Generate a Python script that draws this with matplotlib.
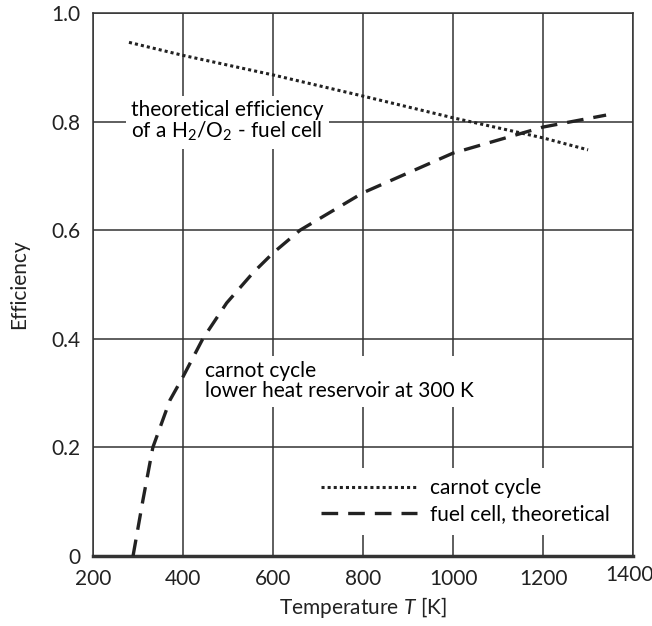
import matplotlib
matplotlib.use("Agg")
import matplotlib.pyplot as plt
import matplotlib.transforms as mtransforms

# Données
t_pointille = [280, 400, 600, 800, 1000, 1200, 1300]
eff_pointille = [0.946, 0.922, 0.886, 0.847, 0.807, 0.770, 0.748]

t_tirets = [289, 311, 333, 371, 400, 444, 497, 556, 600, 660, 800, 1000, 1200, 1340]
eff_tirets = [0.0, 0.103, 0.20, 0.287, 0.33, 0.40, 0.466, 0.522, 0.558, 0.60, 0.669, 0.742, 0.790, 0.812]

x_ticks = [200, 400, 600, 800, 1000, 1200, 1400]
y_ticks = [0, 0.2, 0.4, 0.6, 0.8, 1.0]
y_tick_labels = ['0', '0.2', '0.4', '0.6', '0.8', '1.0']

plt.rcParams['font.family'] = ['Lato', 'DejaVu Sans']
plt.rcParams['mathtext.fontset'] = 'custom'
plt.rcParams['mathtext.rm'] = 'Lato'
plt.rcParams['mathtext.it'] = 'Lato:italic'

fig = plt.figure(figsize=(6.52, 6.26), dpi=100)
ax = fig.add_axes([0.1426, 0.1118, 0.8284, 0.8674])

gris = '#333333'
ax.plot(t_pointille, eff_pointille, linestyle=(0, (1, 1)), color='#222222', lw=2.2,
        label='carnot cycle', zorder=4)
ax.plot(t_tirets, eff_tirets, linestyle=(0, (5, 3)), color='#222222', lw=2.4,
        label='fuel cell, theoretical', zorder=4)

ax.set_xlim(200, 1400)
ax.set_ylim(0, 1.0)
ax.set_xticks(x_ticks)
ax.set_yticks(y_ticks)
ax.set_yticklabels(y_tick_labels)
ax.tick_params(axis='y', length=0, labelsize=15, pad=9, colors='#222222')
ax.tick_params(axis='x', length=0, labelsize=15, pad=9, colors='#222222')
ax.grid(True, color=gris, lw=1.1)
ax.set_axisbelow(True)
for s in ax.spines.values():
    s.set_color(gris)
    s.set_linewidth(1.1)
ax.spines['bottom'].set_linewidth(2.5)

# le dernier label (1400) est un peu décalé comme sur l'original
fig.canvas.draw()
dernier = ax.get_xticklabels()[-1]
dernier.set_transform(dernier.get_transform() +
                      mtransforms.ScaledTranslation(-0.04, 0.04, fig.dpi_scale_trans))

ax.set_xlabel('Temperature $\\it{T}$ [K]', fontsize=15, color='#222222', labelpad=5)
ax.set_ylabel('Efficiency', fontsize=15, color='#222222', labelpad=16)

boite = dict(facecolor='white', edgecolor='none', pad=4)
ax.text(285, 0.80, 'theoretical efficiency\nof a H$_2$/O$_2$ - fuel cell', fontsize=15,
        va='center', ha='left', bbox=boite, linespacing=1.0, zorder=3)
ax.text(448, 0.322, 'carnot cycle\nlower heat reservoir at 300 K', fontsize=15,
        va='center', ha='left', bbox=boite, linespacing=1.0, zorder=3)

leg = ax.legend(loc='lower right', bbox_to_anchor=(0.995, 0.02), fontsize=15,
                frameon=True, handlelength=4.6, handletextpad=0.6,
                labelspacing=0.3, borderpad=0.5)
leg.get_frame().set_edgecolor('none')
leg.get_frame().set_facecolor('white')
leg.get_frame().set_alpha(1)

plt.savefig('out.png', dpi=100)
